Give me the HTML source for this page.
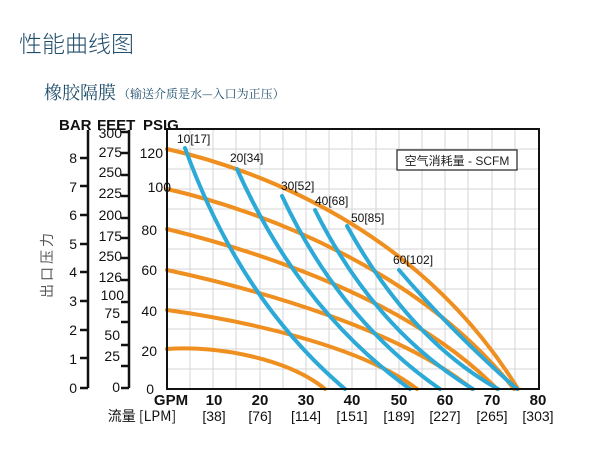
<!DOCTYPE html>
<html><head><meta charset="utf-8"><style>
body{margin:0;background:#fff;width:600px;height:453px;overflow:hidden}
svg{display:block}
</style></head><body>
<svg width="600" height="453" xmlns="http://www.w3.org/2000/svg" font-family="Liberation Sans, Noto Sans CJK SC, sans-serif">
<text x="19" y="52" font-size="23" fill="#1f4e6b" font-family="Noto Sans CJK SC, sans-serif" font-weight="300">性能曲线图</text>
<text x="44" y="99" font-size="18" fill="#1f4e6b" font-family="Noto Serif CJK SC, serif">橡胶隔膜</text>
<text x="118" y="98" font-size="12" fill="#1f4e6b" font-family="Noto Serif CJK SC, serif">（输送介质是水—入口为正压）</text>
<!-- grid -->
<g stroke="#d4d4d4" stroke-width="1">
<path d="M190 129V389M213 129V389M236 129V389M260 129V389M283 129V389M306 129V389M329 129V389M352 129V389M376 129V389M399 129V389M422 129V389M445 129V389M468 129V389M492 129V389M515 129V389"/>
<path d="M167 149H539M167 169H539M167 189H539M167 209H539M167 229H539M167 249H539M167 269H539M167 289H539M167 309H539M167 329H539M167 349H539M167 369H539"/>
</g>
<!-- orange -->
<g fill="none" stroke="#ef8f1f" stroke-width="4" stroke-linecap="round">
<path d="M167 149 C260 170 420 230 518 389"/>
<path d="M167 189 C260 210 420 270 514 389"/>
<path d="M167 229 C260 252 410 300 497 389"/>
<path d="M167 270 C260 290 400 330 472 389"/>
<path d="M167 310 C240 320 360 345 417 389"/>
<path d="M167 349 C220 345 290 360 325 389"/>
</g>
<!-- blue -->
<g fill="none" stroke="#2ca9d6" stroke-width="4" stroke-linecap="round">
<path d="M185 148 Q240 300 345 389"/>
<path d="M237 169 Q300 310 410 389"/>
<path d="M282 196 Q340 320 440 389"/>
<path d="M315 210 Q375 330 473 389"/>
<path d="M347 226 Q410 340 498 389"/>
<path d="M399 270 Q450 330 517 389"/>
</g>
<rect x="167" y="129" width="372" height="260" fill="none" stroke="#111" stroke-width="2"/>
<rect x="397" y="150" width="120" height="20" fill="#fff" stroke="#222" stroke-width="1.2"/>
<text x="457" y="165" font-size="12" text-anchor="middle" fill="#222">空气消耗量 - SCFM</text>
<g font-size="12" fill="#111">
<text x="177" y="143">10[17]</text>
<text x="230" y="162">20[34]</text>
<text x="281" y="190">30[52]</text>
<text x="315" y="205">40[68]</text>
<text x="351" y="222">50[85]</text>
<text x="393" y="264">60[102]</text>
</g>
<!-- left axes -->
<g font-weight="bold" font-size="15" fill="#111">
<text x="59" y="130">BAR</text><text x="97" y="130">FEET</text><text x="143" y="130">PSIG</text>
</g>
<g stroke="#111" stroke-width="2.5" fill="none">
<path d="M88 130V388M80 388H88M80 158H88M80 186H88M80 215H88M80 244H88M80 272H88M80 301H88M80 330H88M80 358H88"/>
<path d="M129 130V388M121 388H129M121 132H129M121 153H129M121 175H129M121 196H129M121 218H129M121 238H129M121 258H129M121 280H129M121 302H129M121 322H129M121 345H129M121 366H129"/>
</g>
<g font-size="14" fill="#111" text-anchor="end">
<text x="77" y="393">0</text><text x="77" y="364">1</text><text x="77" y="335">2</text><text x="77" y="306">3</text><text x="77" y="277">4</text><text x="77" y="249">5</text><text x="77" y="220">6</text><text x="77" y="192">7</text><text x="77" y="163">8</text>
<text x="120" y="392">0</text><text x="120" y="361">25</text><text x="120" y="340">50</text><text x="120" y="318">75</text><text x="124" y="300">100</text><text x="122" y="282">126</text><text x="122" y="261">250</text><text x="122" y="241">175</text><text x="122" y="220">200</text><text x="122" y="198">225</text><text x="122" y="177">250</text><text x="122" y="157">275</text><text x="122" y="138">300</text>
<text x="163" y="158">120</text><text x="171" y="192">100</text><text x="157" y="235">80</text><text x="157" y="275">60</text><text x="157" y="316">40</text><text x="157" y="356">20</text><text x="154" y="394">0</text>
</g>
<text transform="translate(52,298) rotate(-90)" font-size="14" fill="#555" font-family="Noto Sans CJK SC, sans-serif" letter-spacing="3">出口压力</text>
<!-- bottom -->
<g font-size="14" fill="#111" text-anchor="middle">
<g font-weight="bold" font-size="15">
<text x="171" y="405">GPM</text><text x="214" y="405">10</text><text x="260" y="405">20</text><text x="306" y="405">30</text><text x="352" y="405">40</text><text x="399" y="405">50</text><text x="445" y="405">60</text><text x="492" y="405">70</text><text x="538" y="405">80</text>
</g>
<text x="142" y="421" font-family="Noto Sans CJK SC, sans-serif">流量 [LPM]</text><text x="214" y="421">[38]</text><text x="260" y="421">[76]</text><text x="306" y="421">[114]</text><text x="352" y="421">[151]</text><text x="399" y="421">[189]</text><text x="445" y="421">[227]</text><text x="492" y="421">[265]</text><text x="538" y="421">[303]</text>
</g>
</svg>
</body></html>
